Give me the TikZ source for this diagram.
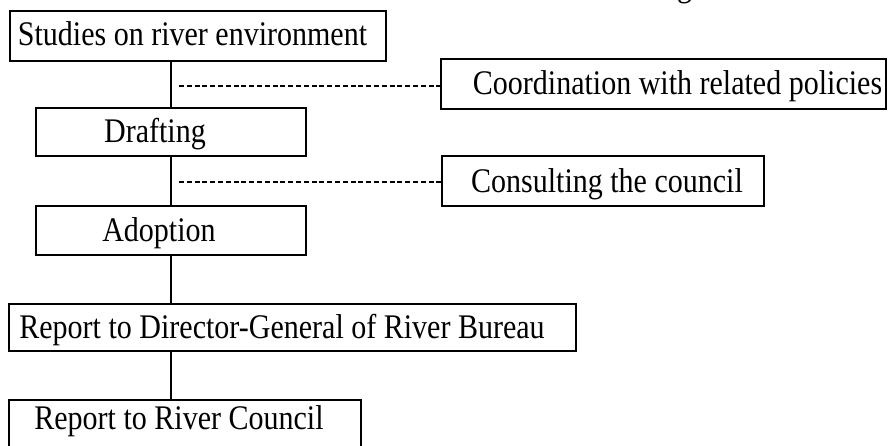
\documentclass[tikz,border=0pt]{standalone}
\usepackage{fontspec}
\setmainfont[FakeStretch=0.87]{Liberation Serif}
\begin{document}
\begin{tikzpicture}[x=1pt,y=-1pt,
  box/.style={draw=black,line width=2pt,inner sep=0pt,anchor=north west},
  lbl/.style={anchor=base,inner sep=0pt,font=\fontsize{34.5}{40}\selectfont},
  link/.style={line width=2pt},
  dlink/.style={line width=1.7pt,dash pattern=on 5pt off 2.8pt}]
\useasboundingbox (0,0) rectangle (888,446);
\clip (0,0) rectangle (888,446);
% boxes
\node[box,minimum width=376pt,minimum height=50pt] (b1) at (9,10) {};
\node[box,minimum width=445pt,minimum height=50pt] (coord) at (440,58) {};
\node[box,minimum width=270pt,minimum height=48pt] (draft) at (35,107) {};
\node[box,minimum width=322pt,minimum height=50pt] (consult) at (441,155) {};
\node[box,minimum width=270pt,minimum height=49pt] (adopt) at (35,205) {};
\node[box,minimum width=567pt,minimum height=47pt] (director) at (8,303) {};
\node[box,minimum width=352pt,minimum height=52pt] (council) at (8,399) {};
% labels
\node[lbl] (t1) at (192.5,45.5) {Studies on river environment};
\node[lbl] (t2) at (677.5,94.5) {Coordination with related policies};
\node[lbl] (t3) at (155,143) {Drafting};
\node[lbl] (t4) at (607,192.5) {Consulting the council};
\node[lbl] (t5) at (159,241.5) {Adoption};
\node[lbl] (t6) at (282,338) {Report to Director-General of River Bureau};
\node[lbl] (t7) at (179,429) {Report to River Council};
\node[lbl,anchor=base west] (tg) at (677,-3) {g};
% spine
\coordinate (sp) at (171,0);
\draw[link] (b1.south -| sp) -- (draft.north -| sp);
\draw[link] (draft.south -| sp) -- (adopt.north -| sp);
\draw[link] (adopt.south -| sp) -- (director.north -| sp);
\draw[link] (director.south -| sp) -- (council.north -| sp);
% dashed links
\coordinate (d1) at (179,86);
\coordinate (d2) at (179,182);
\draw[dlink] (d1) -- (d1 -| coord.west);
\draw[dlink] (d2) -- (d2 -| consult.west);
\end{tikzpicture}
\end{document}
